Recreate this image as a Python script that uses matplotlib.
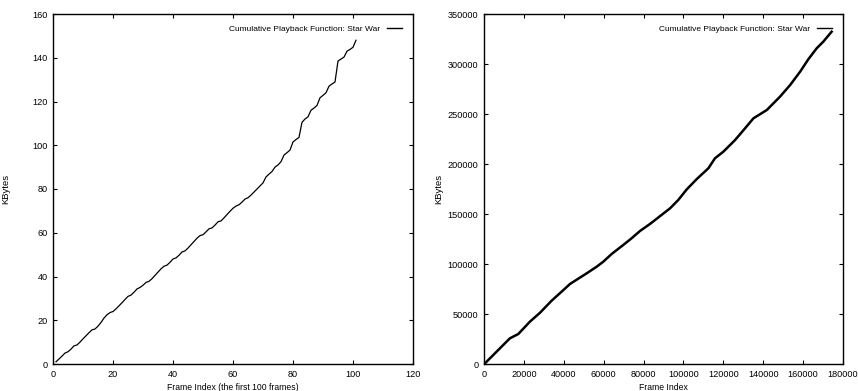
import matplotlib
matplotlib.use("Agg")
import matplotlib.pyplot as plt

# ---- data ----
# left: first 100 frames, cumulative KBytes
frames_100 = list(range(1, 102))
kbytes_100 = [
    1.0, 2.3, 3.6, 5.0, 5.6, 6.8, 8.3, 8.7, 10.0, 11.5,
    12.9, 14.3, 15.6, 16.0, 17.3, 19.0, 21.0, 22.5, 23.5, 24.0,
    25.2, 26.6, 28.0, 29.5, 30.9, 31.5, 32.8, 34.3, 35.0, 36.0,
    37.3, 37.8, 39.0, 40.5, 42.0, 43.5, 44.7, 45.2, 46.5, 48.0,
    48.5, 49.7, 51.2, 51.7, 53.0, 54.5, 56.0, 57.5, 58.7, 59.1,
    60.4, 61.8, 62.2, 63.5, 65.0, 65.4, 66.8, 68.3, 69.8, 71.2,
    72.2, 72.8, 74.0, 75.4, 76.0, 77.2, 78.6, 80.0, 81.4, 82.8,
    85.5, 86.8, 88.0, 90.0, 91.0, 92.5, 95.5, 96.6, 97.8, 101.5,
    102.6, 103.6, 110.5, 112.0, 113.0, 116.0, 117.0, 118.2, 121.7, 122.8,
    124.0, 127.0, 128.0, 128.9, 138.5, 139.4, 140.3, 143.0, 143.8, 144.8,
    148.0,
]

# right: whole trace
frames_all = [0, 500, 13000, 17200, 23000, 28100, 33900, 38900, 43100, 51500,
              56500, 59800, 64000, 69800, 74000, 78200, 83200, 93300, 97400,
              101600, 106700, 112500, 115800, 120000, 125900, 130900, 135100,
              141800, 148400, 153500, 158500, 162600, 166800, 170100, 174300]
kbytes_all = [0, 700, 25700, 30000, 42300, 51300, 63300, 72300, 80000, 90700,
              97300, 102300, 110000, 119000, 125700, 133000, 140000, 155700, 164000,
              174500, 185000, 195700, 205700, 212300, 224000, 235700, 245700,
              254000, 267300, 279000, 292300, 304700, 315700, 322300, 332300]

legend_label = "Cumulative Playback Function: Star War"

plt.rcParams['font.family'] = ['Liberation Sans', 'DejaVu Sans']

fig = plt.figure(figsize=(8.58, 3.91), dpi=100)
ax1 = fig.add_axes([53/858, 27/391, 360/858, 350/391])
ax2 = fig.add_axes([484/858, 27/391, 359/858, 350/391])


def gnuplot_style(ax):
    ax.tick_params(direction='in', top=True, right=True, length=3, width=0.8,
                   labelsize=6.6, pad=4)
    for s in ax.spines.values():
        s.set_linewidth(1.0)


ax1.plot(frames_100, kbytes_100, color='black', lw=0.9, label=legend_label)
ax1.set_xlim(0, 120)
ax1.set_ylim(0, 160)
ax1.set_xticks(range(0, 121, 20))
ax1.set_yticks(range(0, 161, 20))
ax1.set_xlabel("Frame Index (the first 100 frames)", fontsize=6.2, labelpad=3)
ax1.set_ylabel("KBytes", fontsize=6.8)
ax1.yaxis.set_label_coords(-0.118, 0.5)
gnuplot_style(ax1)

ax2.plot(frames_all, kbytes_all, color='black', lw=1.8, label=legend_label)
ax2.set_xlim(0, 180000)
ax2.set_ylim(0, 350000)
ax2.set_xticks(range(0, 180001, 20000))
ax2.set_yticks(range(0, 350001, 50000))
ax2.set_xlabel("Frame Index", fontsize=6.2, labelpad=3)
ax2.set_ylabel("KBytes", fontsize=6.8)
ax2.yaxis.set_label_coords(-0.113, 0.5)
gnuplot_style(ax2)

for ax in (ax1, ax2):
    leg = ax.legend(loc='upper right', frameon=False, markerfirst=False,
                    handlelength=1.8, handletextpad=0.8, fontsize=6.0,
                    borderaxespad=0.9)
    for h in leg.get_lines():
        h.set_linewidth(1.0)

fig.savefig("out.png", dpi=100)
